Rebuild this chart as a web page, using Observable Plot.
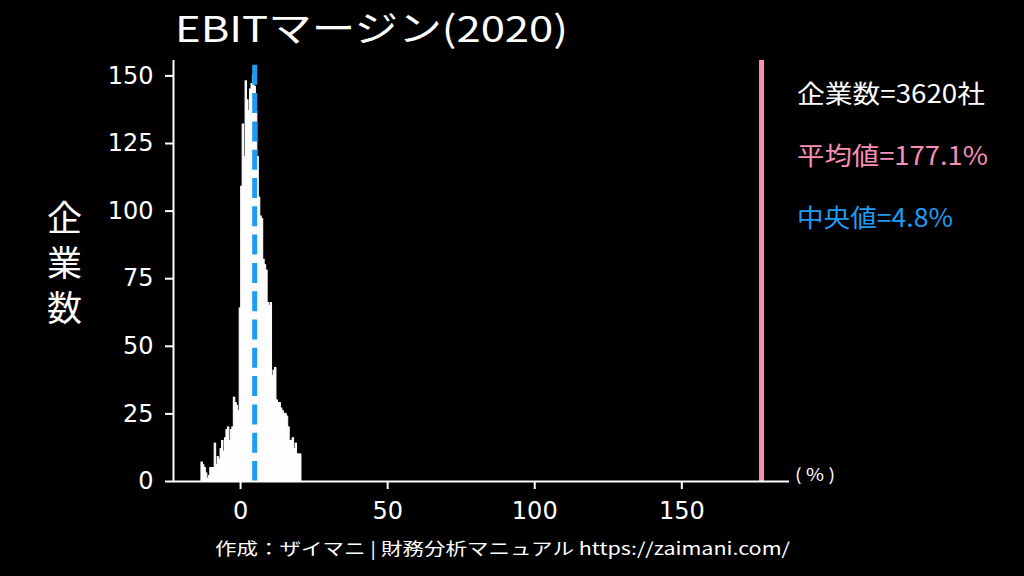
<!DOCTYPE html>
<html>
<head>
<meta charset="utf-8">
<script src="https://cdn.jsdelivr.net/npm/d3@7"></script>
<script src="https://cdn.jsdelivr.net/npm/@observablehq/plot@0.6"></script>
<style>
  html, body { margin: 0; padding: 0; background: #000; }
  #wrap { position: relative; width: 1024px; height: 576px; background: #000; overflow: hidden;
          font-family: "Noto Sans CJK JP", "Noto Sans", sans-serif; color: #fff; }
  .t { position: absolute; white-space: nowrap; line-height: 1; transform-origin: 0 0; }
  .v { writing-mode: vertical-rl; text-orientation: upright; letter-spacing: 10px; }
</style>
</head>
<body>
<div id="wrap"></div>
<script>
// ---- data ----
const title = "EBITマージン(2020)";
const yLabel = "企業数";
const caption = "作成：ザイマニ | 財務分析マニュアル https://zaimani.com/";
const unitLabel = "( % )";
const companyCount = 3620;
const meanValue = 177.1;
const medianValue = 4.8;
const binStart = -13.3;
const binWidth = 0.5;
const counts = [
  7, 6, 5, 3, 1, 2, 5, 5, 5, 14, 6, 9, 8, 12, 15, 11, 16, 19, 20, 15, 19, 20, 31, 29, 28, 26,
  64, 109, 132, 120, 148, 141, 137, 145, 147, 150, 146, 137, 120, 105, 98, 97, 82, 80, 78,
  66, 65, 66, 39, 41, 42, 30, 29, 29, 27, 26, 25, 25, 24, 20, 15, 15, 16, 12, 14, 10, 10, 10
];
const xTicks = [0, 50, 100, 150];
const yTicks = [0, 25, 50, 75, 100, 125, 150];
const xDomain = [-22.8, 186.6];
const yDomain = [0, 155.7];

const pink = "#f78fb6";
const blue = "#1e9cf0";
const font = '"Noto Sans CJK JP", "Noto Sans", sans-serif';
const tickFont = '"DejaVu Sans", "Noto Sans", sans-serif';

const bins = counts.map((c, i) => ({ x1: binStart + i * binWidth, x2: binStart + (i + 1) * binWidth, y: c }));

const chart = Plot.plot({
  width: 1024,
  height: 576,
  marginLeft: 173,
  marginRight: 235,
  marginTop: 60,
  marginBottom: 95,
  style: { background: "#000", color: "#fff", fontFamily: font, fontSize: "20px" },
  x: { domain: xDomain },
  y: { domain: yDomain },
  marks: [
    Plot.rectY(bins, { x1: "x1", x2: "x2", y: "y", fill: "#fff", stroke: "#fff", strokeWidth: 1, inset: 0 }),
    Plot.ruleX([medianValue], { stroke: blue, strokeWidth: 5, strokeDasharray: "20,8.3", y1: 0, y2: 154.5 }),
    Plot.ruleX([meanValue], { stroke: pink, strokeWidth: 5, y1: 0, y2: yDomain[1] }),
    Plot.ruleY([0], { stroke: "#fff", strokeWidth: 2 }),
    Plot.ruleX([xDomain[0]], { stroke: "#fff", strokeWidth: 2 }),
    Plot.axisX({ ticks: xTicks, tickSize: 8, tickPadding: 12, stroke: "#fff", strokeWidth: 2, fill: "#fff",
                 fontSize: 24, fontFamily: tickFont, label: null, tickFormat: d => String(d) }),
    Plot.axisY({ ticks: yTicks, tickSize: 8, tickPadding: 12, stroke: "#fff", strokeWidth: 2, fill: "#fff",
                 fontSize: 24, fontFamily: tickFont, label: null, tickFormat: d => String(d) })
  ]
});

const wrap = document.getElementById("wrap");
wrap.appendChild(chart);

function addText(txt, left, top, size, color, targetWidth, cls) {
  const d = document.createElement("div");
  d.className = "t" + (cls ? " " + cls : "");
  d.textContent = txt;
  d.style.left = left + "px";
  d.style.top = top + "px";
  d.style.fontSize = size + "px";
  d.style.color = color;
  wrap.appendChild(d);
  if (targetWidth) {
    const fit = () => {
      d.style.transform = "";
      const w = d.getBoundingClientRect().width;
      d.style.transform = `scaleX(${targetWidth / w})`;
    };
    fit();
    if (document.fonts && document.fonts.ready) document.fonts.ready.then(fit);
  }
  return d;
}

addText(title, 175, 8, 36, "#fff", 393);
addText(yLabel, 47, 200, 35, "#fff", null, "v");
addText(`企業数=${companyCount}社`, 797, 80, 25, "#fff", 188);
addText(`平均値=${meanValue}%`, 797, 142, 25, pink, 191);
addText(`中央値=${medianValue}%`, 797, 204, 25, blue, 156);
addText(unitLabel, 795, 465, 17, "#fff", 40);
addText(caption, 215, 539, 17, "#fff", 575);
</script>
</body>
</html>
